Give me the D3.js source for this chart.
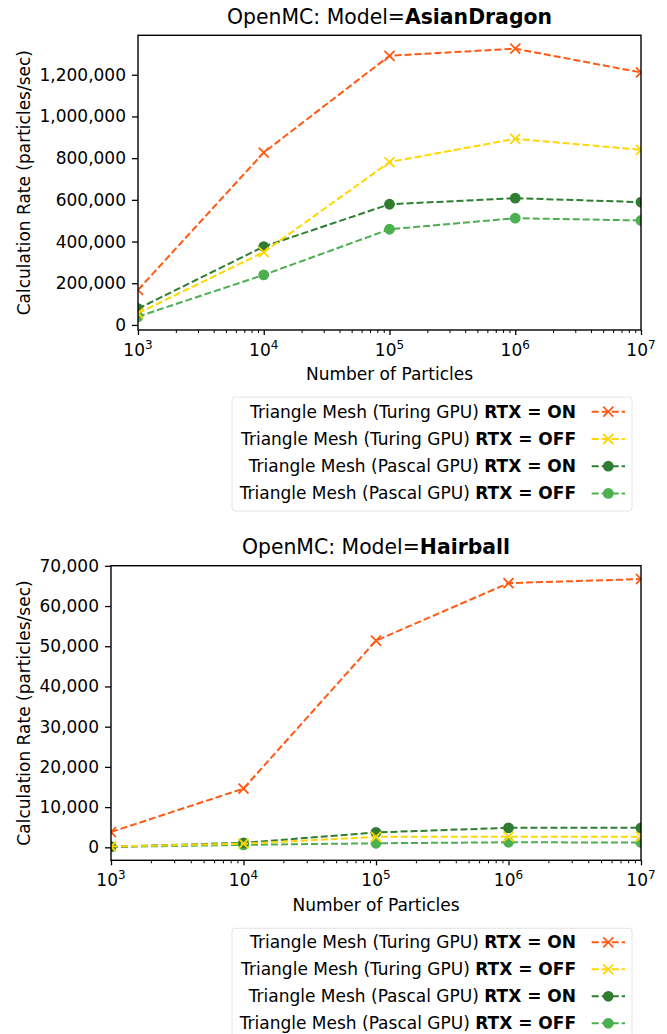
<!DOCTYPE html>
<html>
<head>
<meta charset="utf-8">
<script src="https://cdn.jsdelivr.net/npm/d3@7"></script>
<style>
  html, body { margin: 0; padding: 0; background: #fff; }
  svg { display: block; font-family: "DejaVu Sans", sans-serif; }
</style>
</head>
<body>
<svg id="chart" width="667" height="1034"></svg>
<script>
// ---------------- data ----------------
const particleCounts = [1e3, 1e4, 1e5, 1e6, 1e7];
const xTickExponents = [3, 4, 5, 6, 7];

const seriesLabels = [
  { normal: "Triangle Mesh (Turing GPU) ", bold: "RTX = ON" },
  { normal: "Triangle Mesh (Turing GPU) ", bold: "RTX = OFF" },
  { normal: "Triangle Mesh (Pascal GPU) ", bold: "RTX = ON" },
  { normal: "Triangle Mesh (Pascal GPU) ", bold: "RTX = OFF" }
];
const seriesColors = ["#ff5a14", "#ffd700", "#2e7d32", "#4caf50"];
const seriesMarkers = ["x", "x", "o", "o"];

// AsianDragon model
const dragonTuringOn  = [168000, 827000, 1291000, 1325000, 1211000];
const dragonTuringOff = [56000, 349000, 781000, 893000, 840000];
const dragonPascalOn  = [78000, 376000, 579000, 608000, 589000];
const dragonPascalOff = [40000, 240000, 459000, 512000, 501000];
const dragonYTicks = [0, 200000, 400000, 600000, 800000, 1000000, 1200000];

// Hairball model
const hairballTuringOn  = [3800, 14600, 51400, 65700, 66700];
const hairballTuringOff = [200, 900, 2600, 2650, 2650];
const hairballPascalOn  = [150, 1100, 3700, 4850, 4850];
const hairballPascalOff = [100, 600, 1000, 1250, 1200];
const hairballYTicks = [0, 10000, 20000, 30000, 40000, 50000, 60000, 70000];

// ---------------- drawing ----------------
const svg = d3.select("#chart");
svg.append("rect").attr("width", 667).attr("height", 1034).attr("fill", "#fff");

const FONT = 17;
const fmt = d3.format(",");

function panel(cfg) {
  const { id, left, right, top, bottom, modelName, series, yTicks, legendTop, legendRows } = cfg;
  const g = svg.append("g");

  const allVals = series.flat();
  const lo = d3.min(allVals), hi = d3.max(allVals);
  const pad = (hi - lo) * 0.05;

  const x = d3.scaleLog().domain([1e3, 1e7]).range([left, right]);
  const y = d3.scaleLinear().domain([lo - pad, hi + pad]).range([bottom, top]);

  // clip
  svg.append("clipPath").attr("id", "clip" + id)
    .append("rect").attr("x", left).attr("y", top).attr("width", right - left).attr("height", bottom - top);

  // title
  const title = g.append("text")
    .attr("x", (left + right) / 2).attr("y", top - 11.5)
    .attr("text-anchor", "middle").attr("font-size", 20.4).attr("fill", "#000");
  title.append("tspan").text("OpenMC: Model=");
  title.append("tspan").attr("font-weight", "bold").text(modelName);

  // y ticks
  const yAxis = d3.axisLeft(y).tickValues(yTicks).tickSize(6).tickPadding(6).tickFormat(fmt);
  const ya = g.append("g").attr("transform", `translate(${left},0)`).call(yAxis);
  ya.select(".domain").remove();
  ya.selectAll("line").attr("stroke", "#000").attr("stroke-width", 1.3);
  ya.selectAll("text").attr("font-size", FONT).attr("font-family", "DejaVu Sans").attr("fill", "#000");

  // x ticks (major)
  const xAxis = d3.axisBottom(x).tickValues(particleCounts).tickSize(5).tickFormat("");
  const xa = g.append("g").attr("transform", `translate(0,${bottom})`).call(xAxis);
  xa.select(".domain").remove();
  xa.selectAll("line").attr("stroke", "#000").attr("stroke-width", 1.3);

  // x minor ticks
  const minor = [];
  for (let e = 3; e < 7; e++) for (let m = 2; m <= 9; m++) minor.push(m * Math.pow(10, e));
  const xMinor = d3.axisBottom(x).tickValues(minor).tickSize(3).tickFormat("");
  const xm = g.append("g").attr("transform", `translate(0,${bottom})`).call(xMinor);
  xm.select(".domain").remove();
  xm.selectAll("line").attr("stroke", "#000").attr("stroke-width", 1.0);

  // x tick labels with superscripts
  particleCounts.forEach((v, i) => {
    const t = g.append("text")
      .attr("x", x(v)).attr("y", bottom + 25.7)
      .attr("text-anchor", "middle").attr("font-size", FONT).attr("fill", "#000");
    t.append("tspan").text("10");
    t.append("tspan").attr("font-size", 12).attr("dy", -6.7).text(xTickExponents[i]);
  });

  // axis labels
  g.append("text").attr("x", (left + right) / 2).attr("y", bottom + 50.4)
    .attr("text-anchor", "middle").attr("font-size", FONT).attr("fill", "#000")
    .text("Number of Particles");
  g.append("text")
    .attr("transform", `translate(29.5,${(top + bottom) / 2}) rotate(-90)`)
    .attr("text-anchor", "middle").attr("font-size", FONT).attr("fill", "#000")
    .text("Calculation Rate (particles/sec)");

  // series (drawn Pascal first, Turing on top)
  const plotG = g.append("g").attr("clip-path", `url(#clip${id})`);
  const line = d3.line().x((d, i) => x(particleCounts[i])).y(d => y(d));
  const order = [3, 2, 1, 0];
  order.forEach(si => {
    const vals = series[si];
    const c = seriesColors[si];
    plotG.append("path").attr("d", line(vals)).attr("fill", "none")
      .attr("stroke", c).attr("stroke-width", 2).attr("stroke-dasharray", "7,3");
    vals.forEach((v, i) => drawMarker(plotG, seriesMarkers[si], x(particleCounts[i]), y(v), c));
  });

  // spines
  g.append("rect").attr("x", left).attr("y", top).attr("width", right - left).attr("height", bottom - top)
    .attr("fill", "none").attr("stroke", "#000").attr("stroke-width", 1.4);

  // legend
  const lg = g.append("g");
  lg.append("rect").attr("x", 232).attr("y", legendTop).attr("width", 400).attr("height", 114)
    .attr("rx", 3).attr("fill", "#fff").attr("fill-opacity", 0.8)
    .attr("stroke", "#e4e4e4").attr("stroke-width", 1);
  seriesLabels.forEach((lab, i) => {
    const cy = legendRows[i];
    const t = lg.append("text").attr("x", 576).attr("y", cy + 6)
      .attr("text-anchor", "end").attr("font-size", FONT).attr("fill", "#000");
    t.append("tspan").attr("xml:space", "preserve").text(lab.normal);
    t.append("tspan").attr("font-weight", "bold").text(lab.bold);
    lg.append("line").attr("x1", 591.7).attr("x2", 625).attr("y1", cy).attr("y2", cy)
      .attr("stroke", seriesColors[i]).attr("stroke-width", 2).attr("stroke-dasharray", "7,3");
    drawMarker(lg, seriesMarkers[i], 608.3, cy, seriesColors[i]);
  });
}

function drawMarker(sel, type, cx, cy, color) {
  if (type === "o") {
    sel.append("circle").attr("cx", cx).attr("cy", cy).attr("r", 5.4).attr("fill", color);
  } else {
    const s = 5;
    sel.append("path")
      .attr("d", `M${cx - s},${cy - s}L${cx + s},${cy + s}M${cx - s},${cy + s}L${cx + s},${cy - s}`)
      .attr("stroke", color).attr("stroke-width", 1.8).attr("fill", "none");
  }
}

panel({
  id: "dragon", left: 138, right: 641, top: 35.3, bottom: 330,
  modelName: "AsianDragon",
  series: [dragonTuringOn, dragonTuringOff, dragonPascalOn, dragonPascalOff],
  yTicks: dragonYTicks,
  legendTop: 397, legendRows: [411.7, 439, 466.2, 493.4]
});

panel({
  id: "hairball", left: 111, right: 641, top: 565.7, bottom: 860.3,
  modelName: "Hairball",
  series: [hairballTuringOn, hairballTuringOff, hairballPascalOn, hairballPascalOff],
  yTicks: hairballYTicks,
  legendTop: 928.3, legendRows: [942.3, 969.3, 996.3, 1023.3]
});
</script>
</body>
</html>
